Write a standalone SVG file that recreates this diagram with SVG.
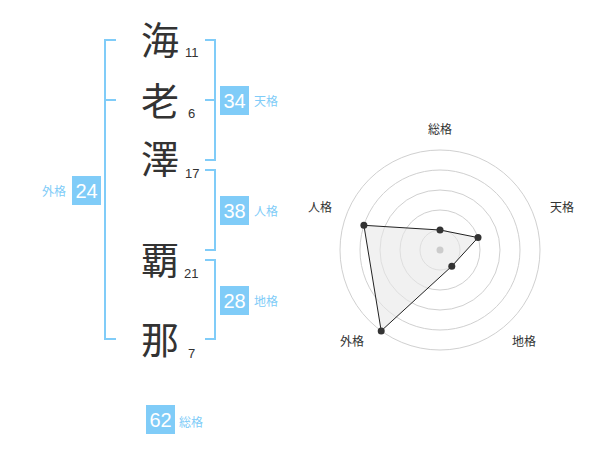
<svg xmlns="http://www.w3.org/2000/svg" width="600" height="470" viewBox="0 0 600 470">
<style>
.ch{font-family:"Noto Sans CJK JP","Noto Sans CJK SC",sans-serif;font-size:38px;fill:#333;text-anchor:middle}
.num{font-family:"Liberation Sans",Arial,sans-serif;font-size:13px;fill:#333}
.br{fill:none;stroke:#80ccf8;stroke-width:2}
.box{fill:#80ccf8}
.bv{font-family:"Liberation Sans",Arial,sans-serif;font-size:20px;fill:#fff;text-anchor:middle}
.bl{font-family:"Noto Sans CJK JP","Noto Sans CJK SC",sans-serif;font-size:12px;fill:#80ccf8}
.ring{fill:none;stroke:#d0d0d0;stroke-width:1}
.ax{font-family:"Noto Sans CJK JP","Noto Sans CJK SC",sans-serif;font-size:12px;fill:#333;text-anchor:middle}
.pt{fill:#333}
</style>
<rect width="600" height="470" fill="#fff"/>
<g id="connectors">
<path class="br" d="M116,40 H105 V339 H116 M105,100 H116"/>
<path class="br" d="M205,40 H215 V160 H205 M205,100 H215"/>
<path class="br" d="M205,170 H215 V250 H205"/>
<path class="br" d="M205,260 H215 V339 H205"/>
</g>
<g id="char1"><text class="ch" x="160" y="54">海</text><text class="num" x="185" y="57">11</text></g>
<g id="char2"><text class="ch" x="160" y="115">老</text><text class="num" x="188" y="118">6</text></g>
<g id="char3"><text class="ch" x="160" y="173">澤</text><text class="num" x="185" y="178">17</text></g>
<g id="char4"><text class="ch" x="160" y="274">覇</text><text class="num" x="184" y="278">21</text></g>
<g id="char5"><text class="ch" x="160" y="354">那</text><text class="num" x="188" y="358">7</text></g>
<g id="tenkaku"><rect class="box" x="220" y="86" width="29" height="29"/><text class="bv" x="234.5" y="108">34</text><text class="bl" x="254" y="106">天格</text></g>
<g id="jinkaku"><rect class="box" x="220" y="196" width="29" height="29"/><text class="bv" x="234.5" y="218">38</text><text class="bl" x="254" y="216">人格</text></g>
<g id="chikaku"><rect class="box" x="220" y="286" width="29" height="29"/><text class="bv" x="234.5" y="308">28</text><text class="bl" x="254" y="306">地格</text></g>
<g id="gaikaku"><rect class="box" x="72" y="176" width="29" height="29"/><text class="bv" x="86.5" y="198">24</text><text class="bl" x="66" y="196" text-anchor="end">外格</text></g>
<g id="soukaku"><rect class="box" x="146" y="405" width="29" height="29"/><text class="bv" x="160.5" y="427">62</text><text class="bl" x="179" y="427">総格</text></g>
<g id="radar">
<circle class="ring" cx="440" cy="250" r="20"/>
<circle class="ring" cx="440" cy="250" r="40"/>
<circle class="ring" cx="440" cy="250" r="60"/>
<circle class="ring" cx="440" cy="250" r="80"/>
<circle class="ring" cx="440" cy="250" r="100"/>
<polygon points="440,230 478,237.6 451.8,266.2 381.2,330.9 363.9,225.3" fill="#e8e8e8" fill-opacity="0.6" stroke="#222" stroke-width="1"/>
<circle cx="440" cy="250" r="3.5" fill="#ccc"/>
<circle class="pt" cx="440" cy="230" r="3.5"/>
<circle class="pt" cx="478" cy="237.6" r="3.5"/>
<circle class="pt" cx="451.8" cy="266.2" r="3.5"/>
<circle class="pt" cx="381.2" cy="330.9" r="3.5"/>
<circle class="pt" cx="363.9" cy="225.3" r="3.5"/>
<text class="ax" x="440" y="134">総格</text>
<text class="ax" x="562" y="212">天格</text>
<text class="ax" x="320" y="212">人格</text>
<text class="ax" x="352" y="346">外格</text>
<text class="ax" x="524" y="346">地格</text>
</g>
</svg>
